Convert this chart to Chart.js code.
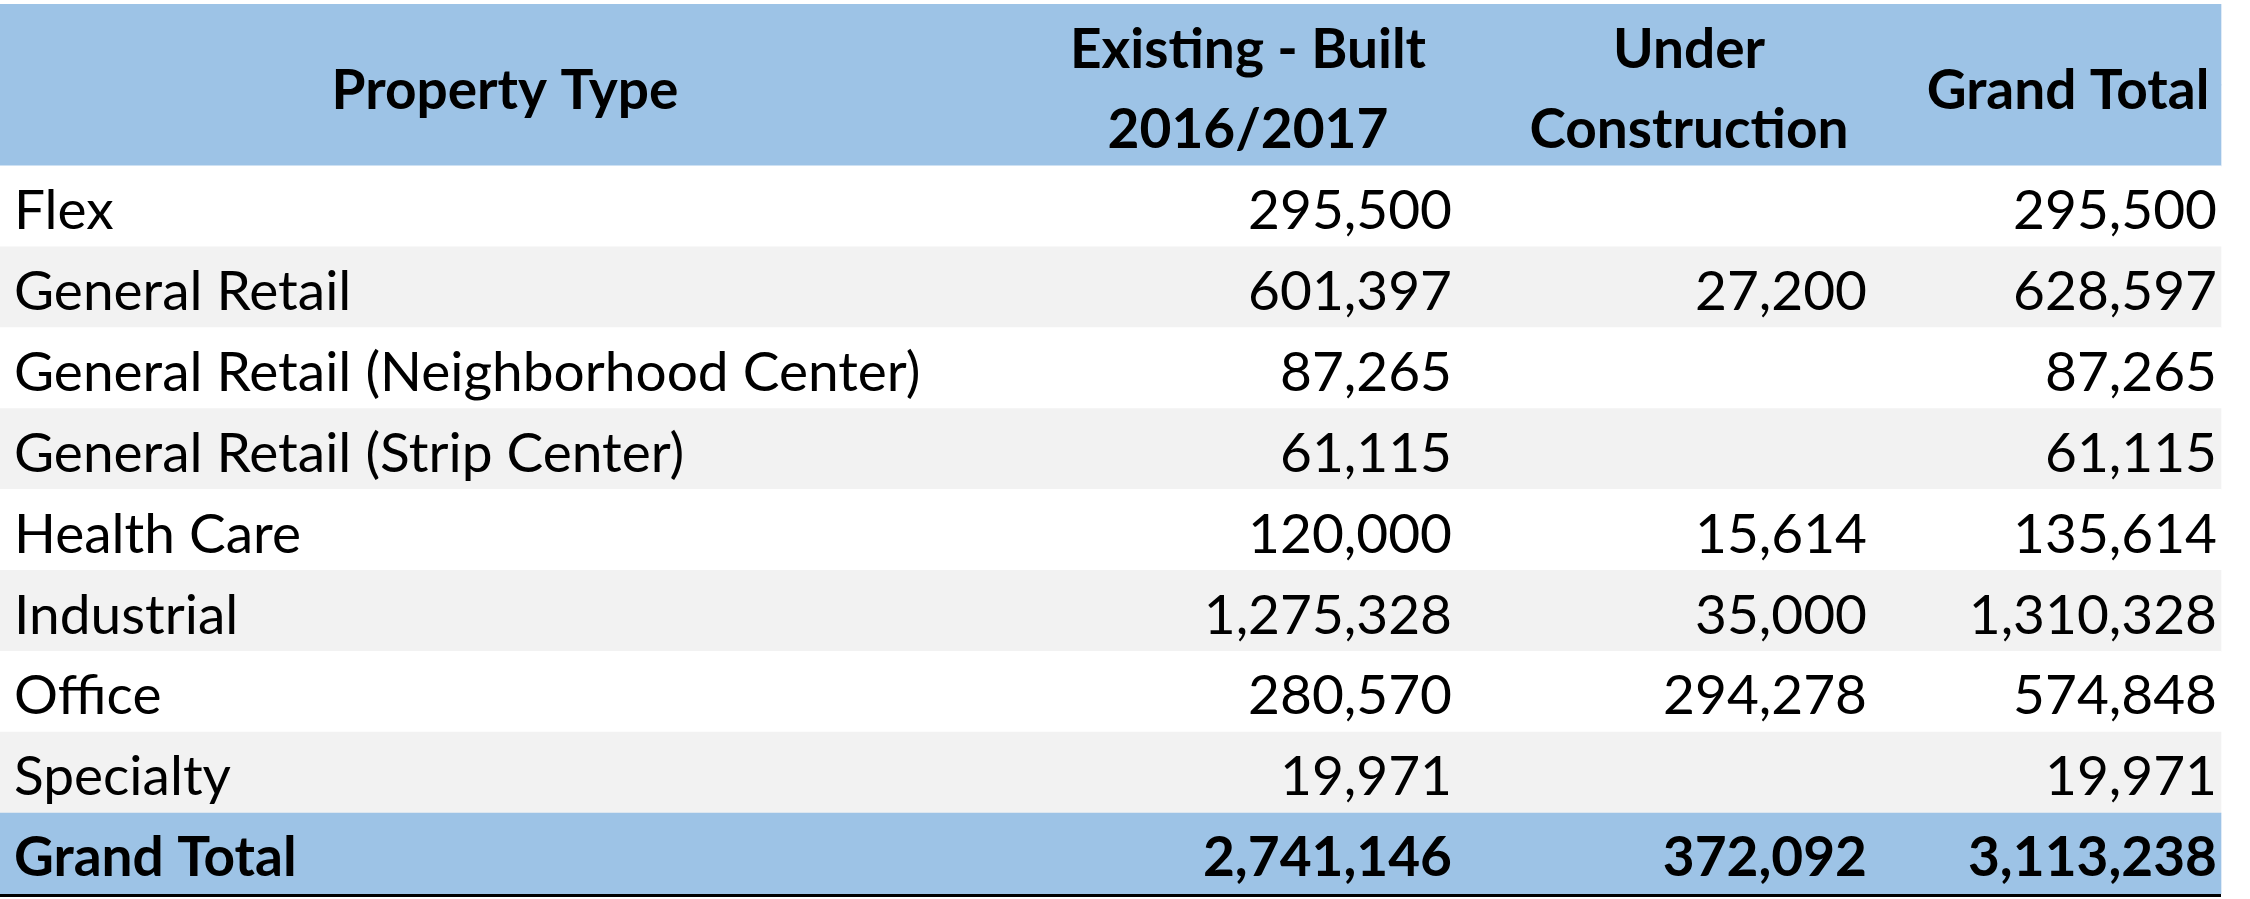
<!DOCTYPE html>
<html><head><meta charset="utf-8">
<script src="https://cdn.jsdelivr.net/npm/chart.js@4.4.0/dist/chart.umd.min.js"></script>
<style>html,body{margin:0;padding:0;background:#fff}#w{width:2250px;height:899px}</style>
</head><body><div id="w"><canvas id="c"></canvas></div>
<script>
const headers = [["Property Type"], ["Existing - Built", "2016/2017"], ["Under", "Construction"], ["Grand Total"]];
const categories = ["Flex","General Retail","General Retail (Neighborhood Center)","General Retail (Strip Center)","Health Care","Industrial","Office","Specialty"];
const existing = [295500,601397,87265,61115,120000,1275328,280570,19971];
const underConstruction = [null,27200,null,null,15614,35000,294278,null];
const grandTotal = [295500,628597,87265,61115,135614,1310328,574848,19971];
const totalLabel = "Grand Total";
const totals = [2741146,372092,3113238];

const rowKeys = ["h1","h2"].concat(categories).concat(["total"]);
const fmt = v => v==null ? "" : v.toLocaleString("en-US");
const BLUE = "#9DC3E6", GRAY = "#F2F2F2";
const rowColors = rowKeys.map((k,i)=> i<2 || k==="total" ? BLUE : (i%2===0 ? "#FFFFFF" : GRAY));
const TABLE_END = 2221, LEFT_X = 14, NUM_RIGHT = [1452,1867,2217], HEAD_CENTER = [505,1248,1689,2068];
const FONT = "Lato, 'Noto Sans', sans-serif";

const tablePlugin = {
  id:"tableText",
  afterDatasetsDraw(chart){
    const {ctx, scales:{x,y}} = chart;
    ctx.save(); ctx.fillStyle="#000"; ctx.textBaseline="middle";
    const h1 = y.getPixelForValue(0), h2 = y.getPixelForValue(1), hm=(h1+h2)/2;
    ctx.font = "bold 55px "+FONT; ctx.textAlign="center";
    headers.forEach((lines,i)=>{
      const cx = x.getPixelForValue(HEAD_CENTER[i]);
      if(lines.length===1) ctx.fillText(lines[0], cx, hm+6);
      else { ctx.fillText(lines[0], cx, h1+6); ctx.fillText(lines[1], cx, h2+5); }
    });
    ctx.font = "55px "+FONT;
    categories.forEach((c,r)=>{
      const py = y.getPixelForValue(r+2)+5;
      ctx.textAlign="left"; ctx.fillText(c, x.getPixelForValue(LEFT_X), py);
      ctx.textAlign="right";
      [existing[r],underConstruction[r],grandTotal[r]].forEach((v,j)=>ctx.fillText(fmt(v), x.getPixelForValue(NUM_RIGHT[j]), py));
    });
    const ty = y.getPixelForValue(rowKeys.length-1)+5;
    ctx.font = "bold 55px "+FONT;
    ctx.textAlign="left"; ctx.fillText(totalLabel, x.getPixelForValue(LEFT_X), ty);
    ctx.textAlign="right";
    totals.forEach((v,j)=>ctx.fillText(fmt(v), x.getPixelForValue(NUM_RIGHT[j]), ty));
    const bottom = y.getPixelForValue(rowKeys.length-1) + (y.getPixelForValue(1)-y.getPixelForValue(0))/2;
    ctx.fillRect(x.getPixelForValue(0), bottom, x.getPixelForValue(TABLE_END)-x.getPixelForValue(0), 3);
    ctx.restore();
  }
};

new Chart(document.getElementById("c"), {
  type:"bar",
  data:{ labels:rowKeys, datasets:[{ data:rowKeys.map(()=>[0,TABLE_END]), backgroundColor:rowColors, borderWidth:0, barPercentage:1, categoryPercentage:1 }]},
  options:{
    indexAxis:"y", responsive:true, maintainAspectRatio:false, animation:false,
    layout:{padding:{top:4,bottom:5,left:0,right:0}},
    plugins:{legend:{display:false},tooltip:{enabled:false}},
    scales:{ x:{type:"linear",min:0,max:2250,display:false}, y:{display:false,grid:{display:false}} }
  },
  plugins:[tablePlugin]
});
</script></body></html>
